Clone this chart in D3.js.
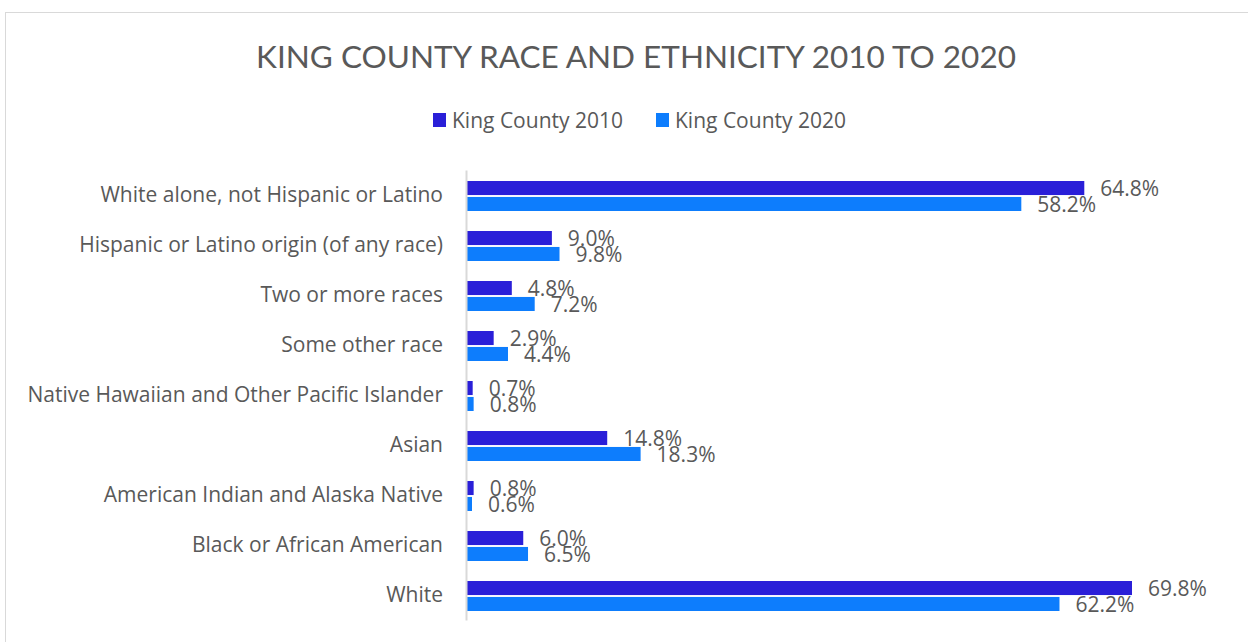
<!DOCTYPE html>
<html>
<head>
<meta charset="utf-8">
<script src="https://cdn.jsdelivr.net/npm/d3@7"></script>
<style>
  body { margin: 0; background: #fff; }
  text { font-family: "Open Sans", sans-serif; fill: #595959; }
</style>
</head>
<body>
<div id="chart"></div>
<script>
var categories = [
  "White alone, not Hispanic or Latino",
  "Hispanic or Latino origin (of any race)",
  "Two or more races",
  "Some other race",
  "Native Hawaiian and Other Pacific Islander",
  "Asian",
  "American Indian and Alaska Native",
  "Black or African American",
  "White"
];
var seriesNames = ["King County 2010", "King County 2020"];
var values2010 = [64.8, 9.0, 4.8, 2.9, 0.7, 14.8, 0.8, 6.0, 69.8];
var values2020 = [58.2, 9.8, 7.2, 4.4, 0.8, 18.3, 0.6, 6.5, 62.2];
var colors = ["#2a1fd8", "#0d7dfd"];

var width = 1248, height = 642;

var svg = d3.select("#chart").append("svg")
    .attr("width", width)
    .attr("height", height);

// chart frame
svg.append("rect")
    .attr("x", 5.5).attr("y", 12.5)
    .attr("width", 1260).attr("height", 660)
    .attr("fill", "none")
    .attr("stroke", "#d9d9d9");

svg.append("text")
    .attr("x", 636).attr("y", 68)
    .attr("text-anchor", "middle")
    .style("font-family", "Lato, sans-serif")
    .style("font-size", "31.5px")
    .text("KING COUNTY RACE AND ETHNICITY 2010 TO 2020");

var x = d3.scaleLinear()
    .domain([0, 69.8])
    .range([466, 1132]);

var y = d3.scaleBand()
    .domain(categories)
    .range([170, 620]);

var inner = d3.scaleBand()
    .domain(seriesNames)
    .range([11, 41])
    .paddingInner(0.12);

var data = categories.map(function(c, i) {
    return {cat: c, vals: [values2010[i], values2020[i]]};
});

var groups = svg.selectAll("g.cat")
    .data(data)
    .enter().append("g")
    .attr("class", "cat")
    .attr("transform", function(d) { return "translate(0," + y(d.cat) + ")"; });

seriesNames.forEach(function(s, k) {
    groups.append("rect")
        .attr("x", x(0) + 1)
        .attr("y", inner(s))
        .attr("width", function(d) { return Math.max(x(d.vals[k]) - x(0) - 1, 5); })
        .attr("height", inner.bandwidth())
        .attr("fill", colors[k]);

    groups.append("text")
        .attr("x", function(d) { return Math.max(x(d.vals[k]), x(0) + 6) + 16; })
        .attr("y", inner(s) + inner.bandwidth() / 2)
        .attr("dy", "0.36em")
        .style("font-size", "21px")
        .text(function(d) { return d.vals[k].toFixed(1) + "%"; });
});

var yAxis = svg.append("g")
    .attr("transform", "translate(" + x(0) + ",0)")
    .call(d3.axisLeft(y).tickSize(0).tickPadding(23));
yAxis.select(".domain").attr("stroke", "#d9d9d9").attr("stroke-width", 2);
yAxis.selectAll("text")
    .style("font-family", "'Open Sans', sans-serif")
    .style("font-size", "21px")
    .attr("fill", "#595959");

// legend
var legendX = [433, 656];
var legend = svg.selectAll("g.legend")
    .data(seriesNames)
    .enter().append("g")
    .attr("class", "legend")
    .attr("transform", function(d, i) { return "translate(" + legendX[i] + ",113)"; });
legend.append("rect")
    .attr("width", 13).attr("height", 14)
    .attr("fill", function(d, i) { return colors[i]; });
legend.append("text")
    .attr("x", 19).attr("y", 7)
    .attr("dy", "0.36em")
    .style("font-size", "21px")
    .text(function(d) { return d; });
</script>
</body>
</html>
